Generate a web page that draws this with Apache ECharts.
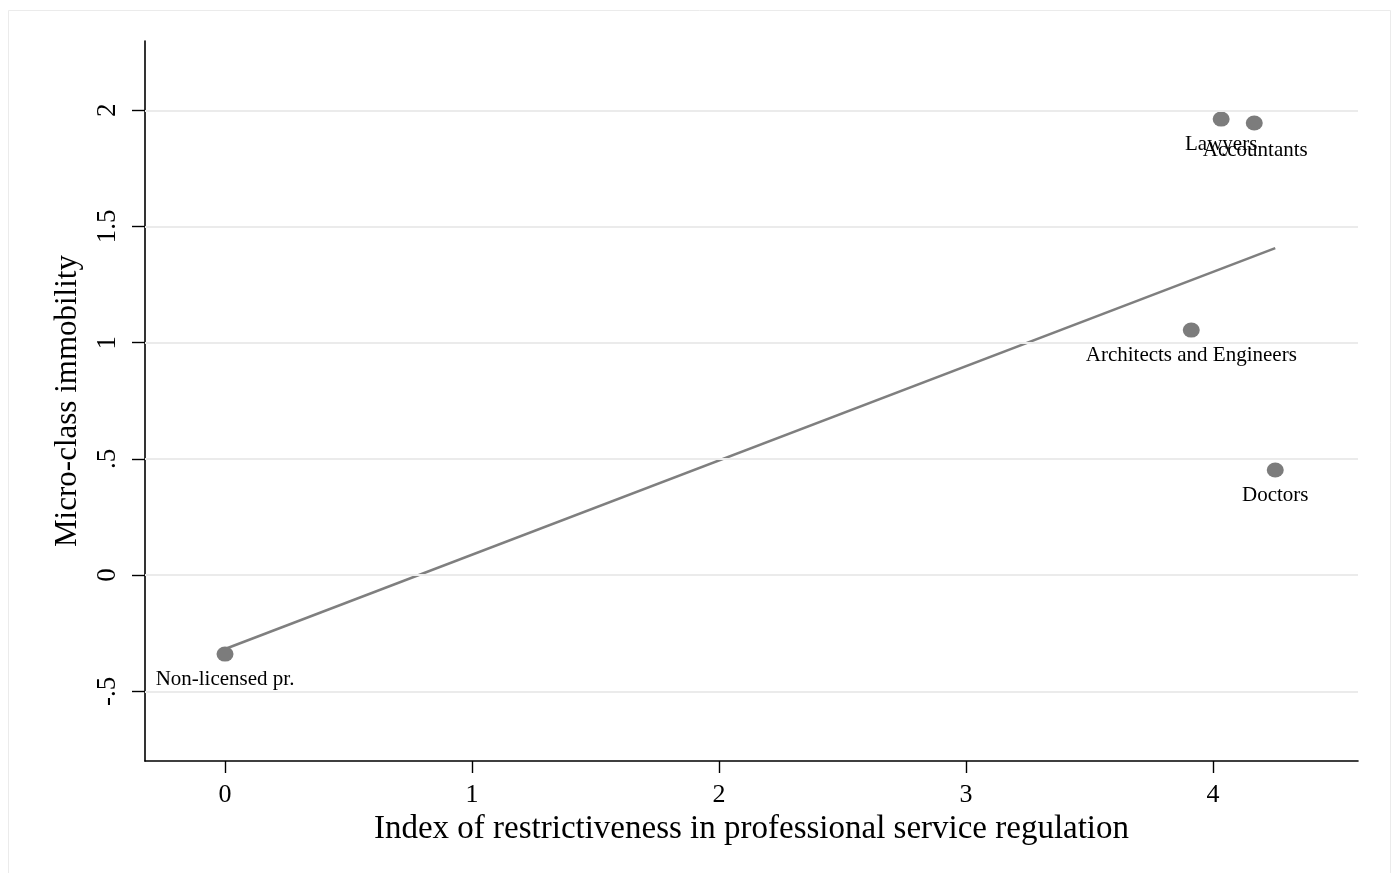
<!DOCTYPE html>
<html>
<head>
<meta charset="utf-8">
<script src="https://cdn.jsdelivr.net/npm/echarts@6/dist/echarts.min.js"></script>
<style>
  html, body { margin: 0; padding: 0; background: #ffffff; }
  #chart { width: 1395px; height: 873px; }
</style>
</head>
<body>
<div id="chart"></div>
<script>
// Occupations: regulation index (x) vs micro-class immobility (y)
const occupations = ['Non-licensed pr.', 'Lawyers', 'Accountants', 'Architects and Engineers', 'Doctors'];
const restrictiveness = [0, 4.033, 4.167, 3.912, 4.252];
const immobility = [-0.34, 1.962, 1.945, 1.054, 0.452];

// Fitted line endpoints
const fitX = [0, 4.252];
const fitY = [-0.318, 1.407];

// Tick positions
const xTicks = [0, 1, 2, 3, 4];
const yTicks = [-0.5, 0, 0.5, 1, 1.5, 2];

const serif = '"Liberation Serif", "DejaVu Serif", serif';

function yTickText(v) {
  if (v === 0) return '0';
  const s = String(v);
  return s.replace(/^(-?)0\./, '$1.');
}

const scatterData = occupations.map((name, i) => {
  const item = { name: name, value: [restrictiveness[i], immobility[i]] };
  if (name === 'Accountants') item.label = { offset: [1, 2] };
  return item;
});

const chart = echarts.init(document.getElementById('chart'));
chart.setOption({
  animation: false,
  backgroundColor: '#ffffff',
  graphic: [{
    type: 'rect',
    shape: { x: 8.5, y: 10.5, width: 1382, height: 880 },
    style: { fill: 'none', stroke: '#ebebeb', lineWidth: 1 },
    silent: true,
    z: -10
  }],
  grid: { left: 145, right: 37, top: 41, bottom: 112, containLabel: false },
  xAxis: {
    type: 'value',
    min: -0.324,
    max: 4.587,
    name: 'Index of restrictiveness in professional service regulation',
    nameLocation: 'middle',
    nameGap: 49,
    nameTextStyle: { fontFamily: serif, fontSize: 33, color: '#000' },
    axisLine: { show: true, onZero: false, lineStyle: { color: '#000', width: 1.6 } },
    axisTick: { show: true, length: 12, customValues: xTicks, lineStyle: { color: '#000', width: 1.4 } },
    axisLabel: {
      customValues: xTicks,
      margin: 21,
      fontFamily: serif, fontSize: 26, color: '#000',
      formatter: v => String(v)
    },
    splitLine: { show: false }
  },
  yAxis: {
    type: 'value',
    min: -0.8,
    max: 2.298,
    name: 'Micro-class immobility',
    nameLocation: 'middle',
    nameGap: 62,
    nameTextStyle: { fontFamily: serif, fontSize: 31, color: '#000' },
    axisLine: { show: true, onZero: false, lineStyle: { color: '#000', width: 1.6 } },
    axisTick: { show: true, length: 13, customValues: yTicks, lineStyle: { color: '#000', width: 1.4 } },
    axisLabel: {
      customValues: yTicks,
      rotate: 90,
      margin: 24,
      fontFamily: serif, fontSize: 27, color: '#000',
      formatter: v => yTickText(v)
    },
    splitLine: { show: false }
  },
  series: [
    {
      // horizontal reference lines at the y ticks
      type: 'line',
      data: [],
      silent: true,
      z: 1,
      markLine: {
        silent: true,
        symbol: 'none',
        label: { show: false },
        lineStyle: { color: '#ebebeb', width: 2, type: 'solid' },
        data: yTicks.map(v => ({ yAxis: v }))
      }
    },
    {
      name: 'Fitted values',
      type: 'line',
      data: fitX.map((x, i) => [x, fitY[i]]),
      showSymbol: false,
      symbol: 'none',
      lineStyle: { color: '#7f7f7f', width: 2.5 },
      z: 2
    },
    {
      name: 'Occupations',
      type: 'scatter',
      data: scatterData,
      symbol: 'circle',
      symbolSize: [17, 15],
      itemStyle: { color: '#7c7c7c', opacity: 1 },
      z: 3,
      label: {
        show: true,
        position: 'bottom',
        distance: 7,
        formatter: p => p.name,
        fontFamily: serif,
        fontSize: 21,
        color: '#000'
      }
    }
  ]
});
</script>
</body>
</html>
